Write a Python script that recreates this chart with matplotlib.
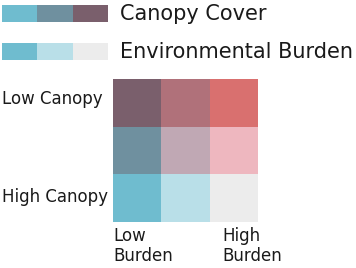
import matplotlib.pyplot as plt
import numpy as np
from matplotlib.colors import to_rgb

# bivariate palette: rows = canopy (low -> high), cols = burden (low -> high)
grid_colors = [
    ["#7a5f6c", "#b0717a", "#d9706f"],
    ["#6f909f", "#c0a8b4", "#eeb7bf"],
    ["#6fbccf", "#b9dfe8", "#ececec"],
]
canopy_colors = ["#6fbccf", "#6f909f", "#7a5f6c"]
burden_colors = ["#6fbccf", "#b9dfe8", "#ececec"]
legend_labels = ["Canopy Cover", "Environmental Burden"]
row_labels = ["Low Canopy", "High Canopy"]
col_labels = ["Low\nBurden", "High\nBurden"]

W, H = 356, 268
fig = plt.figure(figsize=(W / 100, H / 100), dpi=100)


def px_axes(x0, y0, x1, y1):
    # axes placed by pixel box (top-left origin)
    ax = fig.add_axes([x0 / W, 1 - y1 / H, (x1 - x0) / W, (y1 - y0) / H])
    ax.set_axis_off()
    return ax


def rgb(rows):
    return np.array([[to_rgb(c) for c in r] for r in rows])


# legend bars
for i, (cols, lab) in enumerate(zip([canopy_colors, burden_colors], legend_labels)):
    y0 = 5 + i * 38
    ax = px_axes(2, y0, 108, y0 + 17)
    ax.imshow(rgb([cols]), aspect="auto", interpolation="nearest")
    fig.text(120 / W, 1 - (y0 + 9) / H, lab, fontsize=15, va="center", ha="left", color="#1a1a1a")

# 3x3 grid
ax = px_axes(113, 79, 258, 222)
ax.imshow(rgb(grid_colors), aspect="auto", interpolation="nearest")

fig.text(2 / W, 1 - 99 / H, row_labels[0], fontsize=12, va="center", ha="left", color="#1a1a1a")
fig.text(2 / W, 1 - 197 / H, row_labels[1], fontsize=12, va="center", ha="left", color="#1a1a1a")
fig.text(113 / W, 1 - 227 / H, col_labels[0], fontsize=12, va="top", ha="left", color="#1a1a1a", linespacing=1.15)
fig.text(222 / W, 1 - 227 / H, col_labels[1], fontsize=12, va="top", ha="left", color="#1a1a1a", linespacing=1.15)

fig.savefig("out.png", dpi=100)
